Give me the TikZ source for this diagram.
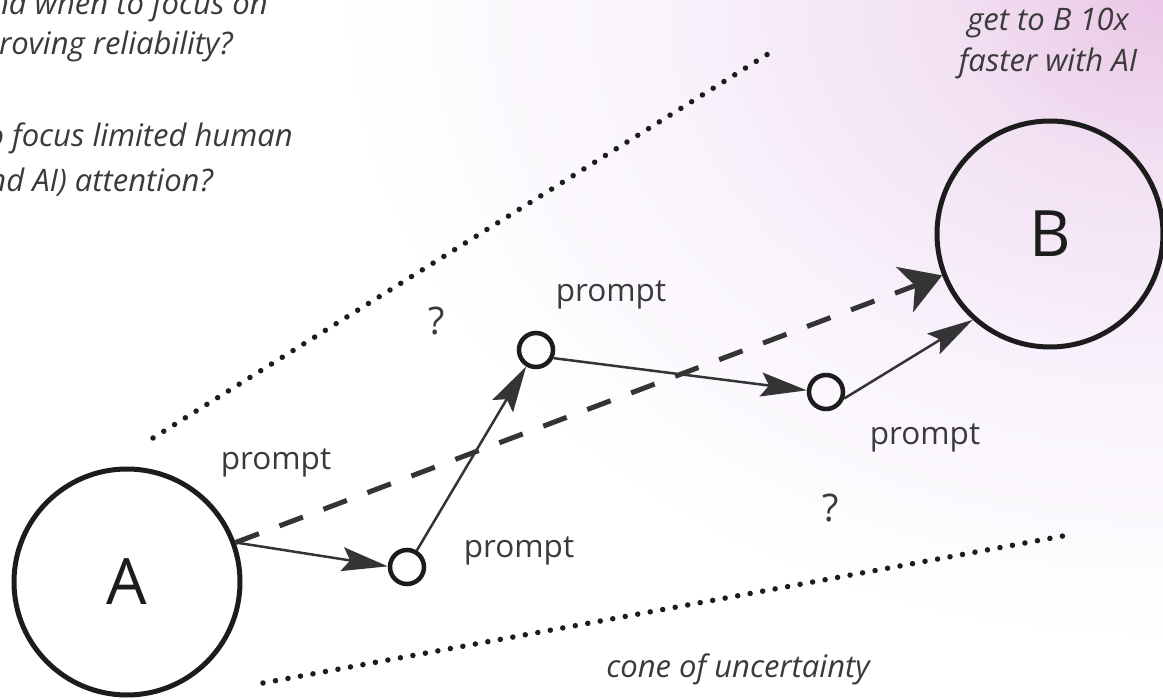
\documentclass[tikz,border=0pt]{standalone}
\usepackage{fontspec}
\setmainfont{Open Sans}
\usetikzlibrary{arrows.meta}
\definecolor{ink}{RGB}{28,28,28}
\definecolor{linec}{RGB}{52,52,52}
\definecolor{txt}{RGB}{58,58,58}
\definecolor{glowA}{RGB}{234,198,230}
\definecolor{glowB}{RGB}{242,224,243}
\definecolor{glowC}{RGB}{249,243,252}
\pgfdeclareradialshading{bgglow}{\pgfpoint{0bp}{0bp}}{color(0bp)=(glowA); color(6bp)=(glowB); color(14bp)=(glowC); color(23bp)=(white); color(50bp)=(white)}
\tikzset{
  bigc/.style={circle, draw=ink, line width=5pt, minimum size=226pt, inner sep=0pt, text=ink, font=\fontsize{64}{70}\selectfont},
  smallc/.style={circle, draw=ink, line width=4.5pt, minimum size=34pt, inner sep=0pt},
  thinarrow/.style={draw=linec, line width=2.5pt, -{Stealth[length=46pt, width=24pt, inset=8pt]}},
  dasharrow/.style={draw=linec, line width=5pt, dash pattern=on 25pt off 22pt, -{Stealth[length=40pt, width=48pt, inset=11pt]}},
  dotline/.style={draw=ink, line width=5.5pt, line cap=round, dash pattern=on 0pt off 12.7pt},
  lbl/.style={text=txt, inner sep=0pt, font=\fontsize{31.5}{37}\selectfont},
  qmark/.style={text=txt, inner sep=0pt, font=\fontsize{38}{44}\selectfont},
  note/.style={text=txt, inner sep=0pt, font=\fontsize{31}{37}\selectfont\itshape},
}
\begin{document}
\begin{tikzpicture}[x=1pt, y=-1pt]
\useasboundingbox (0,0) rectangle (1163,700);
\begin{scope}
  \clip (0,0) rectangle (1163,700);
  \fill[white] (0,0) rectangle (1163,700);
  \shade[shading=bgglow] (1163,0) ellipse [x radius=900pt, y radius=700pt];
\end{scope}

% cone of uncertainty
\coordinate (u1) at (153,438);
\coordinate (u2) at (768,54);
\coordinate (l1) at (263,683);
\coordinate (l2) at (1063,536);
\draw[dotline] (u1) -- (u2);
\draw[dotline] (l1) -- (l2);

% nodes
\node[bigc] (A) at (127,582) {A};
\node[bigc] (B) at (1050,234) {B};
\node[smallc] (s1) at (407,567) {};
\node[smallc] (s2) at (536,350) {};
\node[smallc] (s3) at (826,392) {};

% connectors
\draw[dasharrow] (A.20) -- (B.201);
\draw[thinarrow] (A.20) -- (s1.178);
\draw[thinarrow] (s1) -- (s2);
\draw[thinarrow] (s2.-25) -- (s3.175);
\draw[thinarrow] (s3.-20) -- (B.228);

% labels
\node[lbl] (p1) at (276,463) {prompt};
\node[lbl] (p2) at (519,551) {prompt};
\node[lbl] (p3) at (611,295) {prompt};
\node[lbl] (p4) at (925,438) {prompt};
\node[qmark] (q1) at (437,321) {?};
\node[qmark] (q2) at (831,508) {?};
\node[note] (cone) at (738,669) {cone of uncertainty};
\node[note, anchor=base] (g1) at (1048,31) {get to B 10x};
\node[note, anchor=base] (g2) at (1048,72) {faster with AI};

% top-left question fragments
\node[note, anchor=base east] (t1) at (268,15) {nd when to focus on};
\node[note, anchor=base east] (t2) at (233,55) {roving reliability?};
\node[note, anchor=base east] (t3) at (293,147) {o focus limited human};
\node[note, anchor=base east] (t4) at (213,192) {nd AI) attention?};
\end{tikzpicture}
\end{document}
